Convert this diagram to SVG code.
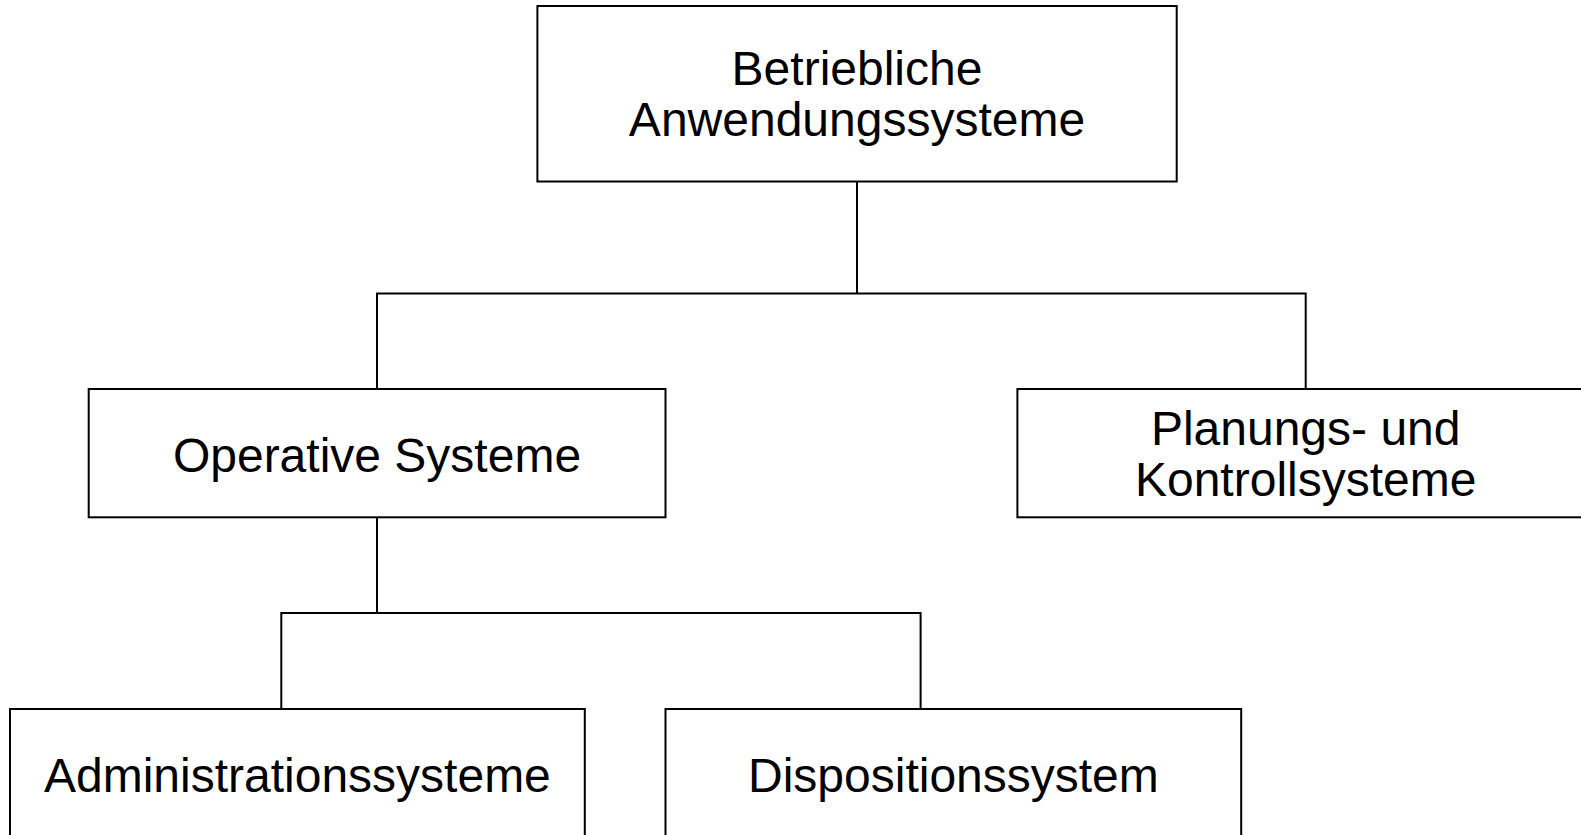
<svg xmlns="http://www.w3.org/2000/svg" width="1581" height="835" viewBox="0 0 1581 835">
<style>
.box{fill:#fff;stroke:#000;stroke-width:2}
.con{fill:none;stroke:#000;stroke-width:2}
text{font-family:"Liberation Sans",Arial,sans-serif;font-size:48px;fill:#000;text-anchor:middle}
</style>
<rect width="1581" height="835" fill="#fff"/>
<g id="connectors">
<path class="con" d="M857,181.5 V293.4 M377,389 V293.4 H1305.7 V389"/>
<path class="con" d="M377,517.3 V613 M281.3,709 V613 H920.6 V709"/>
</g>
<g id="n-betrieblich">
<rect class="box" x="537.4" y="6" width="639.3" height="175.5"/>
<text x="857" y="85">Betriebliche</text>
<text x="857" y="136">Anwendungssysteme</text>
</g>
<g id="n-operative">
<rect class="box" x="88.7" y="389" width="576.8" height="128.3"/>
<text x="377" y="472">Operative Systeme</text>
</g>
<g id="n-planung">
<rect class="box" x="1017.4" y="389" width="580" height="128.3"/>
<text x="1305.7" y="445">Planungs- und</text>
<text x="1305.7" y="496">Kontrollsysteme</text>
</g>
<g id="n-admin">
<rect class="box" x="10" y="709" width="574.8" height="140"/>
<text x="297.4" y="791.5">Administrationssysteme</text>
</g>
<g id="n-dispo">
<rect class="box" x="665.5" y="709" width="575.7" height="140"/>
<text x="953.4" y="791.5">Dispositionssystem</text>
</g>
</svg>
